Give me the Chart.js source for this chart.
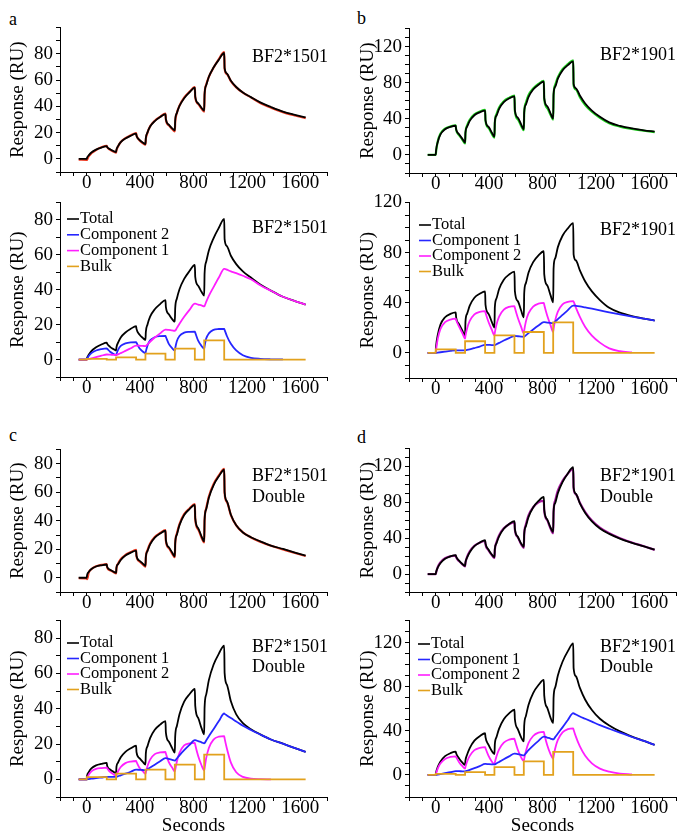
<!DOCTYPE html>
<html>
<head>
<meta charset="utf-8">
<title>BF2 binding sensorgrams</title>
<script src="https://cdn.jsdelivr.net/npm/chart.js@4.4.1/dist/chart.umd.min.js"></script>
<style>
    html, body { margin: 0; padding: 0; background: #fff; }
    #fig { position: relative; width: 681px; height: 836px; overflow: hidden; }
    #fig canvas { position: absolute; }
    .lbl { position: absolute; font: 18px 'Liberation Serif', 'Times New Roman', serif; line-height: 18px; color: #000; }
</style>
</head>
<body>
<div id="fig">
    <div class="lbl" style="left:9px;top:10px">a</div>
    <div class="lbl" style="left:357px;top:9px">b</div>
    <div class="lbl" style="left:9px;top:426px">c</div>
    <div class="lbl" style="left:357px;top:428px">d</div>
</div>
<script>
// ═══════════════════════════════════════════════════════
// Sensorgrams — BF2*1501 / BF2*1901, single & double fits
// ═══════════════════════════════════════════════════════

// ─── TIME GRID (s) ───
const T = [
    -60, 0, 3, 15, 35, 70, 110, 150, 153, 175, 200,
    220, 223, 235, 255, 290, 330, 370, 373, 395, 420,
    440, 443, 455, 475, 510, 550, 590, 593, 615, 640,
    660, 663, 675, 695, 730, 770, 810, 813, 835, 860,
    880, 883, 895, 915, 950, 990, 1030, 1033, 1050, 1080, 1120, 1170, 1230, 1300, 1380, 1470, 1560, 1640
];
const injStart = [0, 220, 440, 660, 880];
const injEnd = [150, 370, 590, 810, 1030];

// ─── PANEL a : BF2*1501 ───
const totalA = [
    0, 0, 0.95, 2.7, 4.8, 7.0, 8.6, 9.7, 9.1, 7.3, 6.0,
    5.2, 7.05, 9.7, 12.7, 15.5, 17.6, 19.2, 17.6, 14.4, 12.4,
    11.3, 15.8, 20.0, 24.6, 28.8, 31.8, 34.1, 30.2, 26.0, 23.2,
    21.7, 29.4, 34.8, 40.3, 46.2, 50.7, 54.3, 47.4, 42.3, 38.8,
    36.7, 49.3, 56.0, 62.5, 69.5, 75.5, 80.6, 69.0, 65.0, 59.5, 54.7, 50.5, 47.0, 43.0, 39.5, 36.0, 33.5, 31.5
];
const comp2A = [
    0, 0, 0.5, 2.0, 3.7, 5.2, 6.0, 6.4, 6.2, 4.5, 3.3,
    2.6, 3.2, 5.5, 7.8, 9.3, 9.9, 10.0, 9.6, 6.5, 4.6,
    3.6, 4.6, 8.0, 11.0, 12.8, 13.4, 13.5, 13.0, 9.0, 6.5,
    5.2, 6.5, 10.5, 13.5, 15.4, 15.9, 16.0, 15.4, 10.8, 7.8,
    6.2, 7.6, 12.0, 15.0, 17.0, 17.5, 17.6, 17.0, 13.5, 9.0, 5.2, 2.5, 1.0, 0.4, 0.15, 0.05, null, null
];
const comp1A = [
    0, 0, 0.05, 0.3, 0.7, 1.4, 2.2, 2.9, 2.9, 2.8, 2.7,
    2.6, 2.65, 3.0, 3.7, 5.0, 6.5, 8.0, 8.0, 7.9, 7.8,
    7.7, 7.8, 8.6, 10.2, 12.6, 15.0, 17.2, 17.2, 17.0, 16.7,
    16.5, 16.6, 18.0, 20.5, 24.5, 28.5, 32.0, 32.0, 31.5, 31.0,
    30.5, 30.7, 33.0, 36.5, 41.5, 47.0, 52.0, 52.0, 51.5, 50.5, 49.5, 48.0, 46.0, 42.6, 39.4, 36.0, 33.5, 31.5
];
const obsA = [
    -0.6, -0.8, -0.5, 2.0, 4.3, 6.8, 8.8, 9.9, 9.0, 7.0, 5.6,
    4.8, 6.6, 9.5, 12.8, 15.8, 17.9, 19.7, 17.9, 14.2, 12.0,
    10.8, 15.0, 19.8, 24.8, 29.0, 32.0, 34.4, 30.0, 25.6, 22.7,
    21.0, 28.0, 34.8, 40.5, 46.6, 51.0, 54.6, 47.0, 41.8, 38.2,
    36.0, 48.5, 56.4, 62.4, 69.4, 76.0, 81.2, 68.8, 64.6, 59.2, 54.4, 50.4, 46.8, 42.6, 39.0, 35.6, 33.0, 31.0
];
const bulkA = [0.4, 1.2, 3.4, 6.3, 11.0];

// ─── PANEL b : BF2*1901 ───
const totalB = [
    0, 0, 5.45, 14.15, 22.45, 28.45, 31.1, 32.3, 28.4, 23.0, 17.8,
    13.6, 25.05, 31.2, 37.7, 44.0, 47.2, 49.1, 38.6, 31.3, 24.8,
    20.2, 36.5, 43.4, 51.0, 58.4, 62.6, 64.8, 49.5, 41.3, 33.8,
    28.4, 47.6, 55.5, 64.0, 72.4, 77.8, 81.1, 62.9, 54.0, 46.1,
    40.4, 67.4, 75.4, 84.4, 93.5, 99.4, 103.5, 78.7, 73.8, 65.9, 57.0, 49.1, 42.2, 36.0, 32.1, 29.3, 27.3, 25.8
];
const comp1B = [
    0, 0, 0.05, 0.25, 0.55, 1.05, 1.6, 2.1, 2.1, 2.1, 2.1,
    2.1, 2.15, 2.4, 2.9, 3.9, 5.1, 6.5, 6.5, 6.4, 6.3,
    6.2, 6.3, 6.9, 8.0, 9.9, 11.8, 13.5, 13.5, 13.3, 13.0,
    12.8, 12.9, 14.0, 15.8, 18.7, 21.8, 24.5, 24.5, 24.2, 23.9,
    23.7, 23.8, 25.0, 27.0, 30.3, 34.2, 37.8, 37.8, 37.6, 37.1, 36.3, 35.3, 34.0, 32.4, 30.7, 28.9, 27.3, 25.8
];
const comp2B = [
    0, 0, 2.5, 11.0, 19.0, 24.5, 26.6, 27.3, 26.3, 20.9, 15.7,
    11.5, 13.6, 19.5, 25.5, 30.8, 32.8, 33.3, 32.1, 24.9, 18.5,
    14.0, 16.2, 22.5, 29.0, 34.5, 36.8, 37.3, 36.0, 28.0, 20.8,
    15.6, 18.0, 24.8, 31.5, 37.0, 39.3, 39.9, 38.4, 29.8, 22.2,
    16.7, 19.2, 26.0, 33.0, 38.8, 40.8, 41.3, 40.9, 36.2, 28.8, 20.7, 13.8, 8.2, 3.6, 1.4, 0.4, null, null
];
const obsB = [
    0, 0, 4.0, 15.0, 23.5, 29.0, 31.5, 32.8, 28.0, 22.0, 16.8,
    12.8, 24.0, 32.5, 39.0, 45.0, 48.0, 49.8, 38.0, 30.0, 23.5,
    19.2, 35.5, 45.0, 52.5, 59.5, 63.2, 65.6, 48.8, 39.5, 32.2,
    27.4, 46.5, 57.5, 66.0, 73.5, 78.6, 82.0, 62.0, 52.0, 44.5,
    39.2, 66.0, 77.5, 86.0, 95.0, 100.5, 104.6, 76.8, 72.5, 64.0, 55.2, 47.8, 41.2, 35.2, 31.4, 28.8, 26.8, 25.2
];
const bulkB = [2.9, 9.3, 14.0, 16.7, 24.4];

// ─── PANEL c : BF2*1501 Double ───
const totalC = [
    0, 0, 2.03, 4.05, 6.15, 7.9, 8.75, 9.3, 7.7, 5.6, 4.3,
    3.5, 7.15, 9.55, 12.5, 15.6, 17.6, 19.1, 15.4, 12.0, 9.9,
    8.4, 14.7, 18.7, 23.4, 28.1, 31.0, 33.0, 26.6, 21.4, 17.7,
    15.1, 24.4, 30.1, 36.9, 44.0, 48.2, 51.2, 41.8, 34.8, 29.0,
    25.5, 40.7, 48.0, 56.2, 64.9, 71.2, 75.8, 60.3, 53.7, 44.2, 36.8, 31.8, 28.4, 25.5, 22.6, 20.2, 17.7, 15.6
];
const comp1C = [
    0, 0, 0.03, 0.15, 0.35, 0.7, 1.05, 1.4, 1.4, 1.4, 1.4,
    1.4, 1.45, 1.75, 2.3, 3.2, 4.3, 5.5, 5.5, 5.4, 5.3,
    5.2, 5.3, 5.8, 6.7, 8.3, 10.2, 12.0, 12.0, 11.6, 11.0,
    10.6, 10.7, 11.8, 13.6, 16.5, 19.5, 22.2, 22.2, 21.6, 21.0,
    20.4, 20.5, 22.0, 24.4, 28.4, 33.0, 37.3, 37.1, 36.2, 34.7, 32.8, 30.4, 28.0, 25.4, 22.6, 20.2, 17.7, 15.6
];
const comp2C = [
    0, 0, 0.7, 2.6, 4.5, 5.9, 6.4, 6.6, 6.3, 4.2, 2.9,
    2.1, 2.5, 4.6, 7.0, 9.2, 10.1, 10.4, 9.9, 6.6, 4.6,
    3.2, 3.9, 7.4, 11.2, 14.3, 15.3, 15.5, 14.6, 9.8, 6.7,
    4.5, 5.4, 10.0, 15.0, 19.2, 20.4, 20.7, 19.6, 13.2, 8.0,
    5.1, 6.2, 12.0, 17.8, 22.5, 24.2, 24.5, 23.2, 17.5, 9.5, 4.0, 1.4, 0.4, 0.1, 0.0, null, null, null
];
const obsC = [
    -0.3, -0.4, -1.0, 3.6, 6.0, 8.0, 9.0, 9.6, 7.3, 5.2, 4.0,
    3.0, 6.8, 9.8, 13.0, 16.0, 18.0, 19.5, 15.0, 11.5, 9.4,
    7.8, 14.2, 19.2, 24.0, 28.6, 31.4, 33.4, 26.0, 20.8, 17.0,
    14.4, 24.0, 30.8, 37.6, 44.6, 48.6, 51.6, 41.2, 34.0, 28.2,
    24.8, 40.0, 48.6, 57.0, 65.6, 71.8, 76.4, 59.6, 53.2, 44.0, 36.8, 31.8, 28.3, 25.3, 22.4, 19.9, 17.4, 15.3
];
const bulkC = [1.3, 3.2, 5.5, 8.3, 14.0];

// ─── PANEL d : BF2*1901 Double ───
const totalD = [
    0, 0, 2.37, 7.05, 12.0, 17.0, 19.7, 21.2, 19.6, 15.0, 11.2,
    9.1, 13.15, 18.3, 24.4, 31.1, 35.1, 37.8, 34.2, 27.4, 21.8,
    19.0, 27.9, 34.2, 42.0, 50.5, 55.8, 59.1, 50.7, 41.6, 34.1,
    30.4, 44.8, 53.1, 63.5, 74.2, 81.5, 86.1, 72.1, 61.0, 51.9,
    47.0, 70.1, 79.2, 90.2, 102.6, 112.2, 119.2, 96.8, 89.5, 78.9, 68.2, 58.8, 50.9, 44.8, 39.5, 34.8, 30.8, 27.2
];
const comp1D = [
    0, 0, 0.07, 0.35, 0.8, 1.6, 2.5, 3.4, 3.4, 3.4, 3.3,
    3.3, 3.35, 3.8, 4.6, 6.1, 8.0, 10.0, 10.0, 9.8, 9.6,
    9.5, 9.6, 10.4, 11.8, 14.2, 16.8, 19.3, 19.3, 18.8, 18.2,
    17.8, 17.9, 19.6, 22.4, 26.6, 30.9, 34.7, 34.7, 33.9, 33.0,
    32.2, 32.3, 34.3, 37.6, 43.1, 49.8, 56.0, 55.8, 54.8, 53.0, 50.9, 48.3, 45.2, 41.9, 38.3, 34.4, 30.8, 27.2
];
const comp2D = [
    0, 0, 1.4, 5.8, 10.3, 14.5, 16.3, 16.9, 16.2, 11.6, 7.9,
    5.8, 7.3, 12.0, 17.3, 22.5, 24.6, 25.3, 24.2, 17.6, 12.2,
    9.5, 11.3, 16.8, 23.2, 29.3, 32.0, 32.8, 31.4, 22.8, 15.9,
    12.6, 14.6, 21.2, 28.8, 35.3, 38.3, 39.1, 37.4, 27.1, 18.9,
    14.8, 16.9, 24.0, 31.7, 38.6, 41.5, 42.3, 41.0, 34.7, 25.8, 17.3, 10.5, 5.7, 2.9, 1.2, 0.4, null, null
];
const obsD = [
    0, 0, 1.5, 7.8, 13.0, 17.6, 19.8, 20.6, 18.8, 14.4, 10.8,
    8.6, 12.5, 19.2, 25.4, 31.6, 35.0, 37.0, 33.0, 26.6, 21.2,
    18.0, 27.0, 35.5, 43.4, 51.0, 55.6, 58.0, 49.6, 41.0, 33.2,
    29.2, 44.0, 55.0, 65.5, 74.5, 80.0, 81.5, 70.5, 60.2, 50.8,
    45.6, 69.0, 82.0, 93.0, 104.0, 112.0, 117.5, 95.5, 89.0, 79.5, 69.2, 59.8, 51.8, 45.4, 40.0, 35.2, 31.0, 27.0
];
const bulkD = [0.9, 2.5, 7.0, 12.3, 20.9];

// ─── STYLE ───
const FONT = "'Liberation Serif', 'Times New Roman', serif";
const BLACK = '#000000', BLUE = '#2626ff', MAG = '#ff1eff', ORANGE = '#e2a11d';
const RED = '#ee3a22', GREEN = '#1ccf1c', PURPLE = '#a8199f';

const fig = document.getElementById('fig');

function pts(v) {
    return T.map((t, i) => ({ x: t, y: v[i] }));
}

function bulkPts(h) {
    const p = [{ x: T[0], y: 0 }];
    injStart.forEach((s, i) => {
        p.push({ x: s, y: 0 }, { x: s, y: h[i] }, { x: injEnd[i], y: h[i] }, { x: injEnd[i], y: 0 });
    });
    p.push({ x: T[T.length - 1], y: 0 });
    return p;
}

function curve(label, v, color, order, width) {
    return {
        label, data: pts(v), borderColor: color, borderWidth: width || 1.8,
        pointRadius: 0, cubicInterpolationMode: 'monotone', spanGaps: false, order
    };
}

function step(label, h, color, order) {
    return { label, data: bulkPts(h), borderColor: color, borderWidth: 1.8, pointRadius: 0, tension: 0, order };
}

// ─── ANNOTATION + LEGEND PLUGIN ───
const panelText = {
    id: 'panelText',
    afterDraw(chart, args, o) {
        const ctx = chart.ctx;
        ctx.save();
        ctx.fillStyle = '#000';
        ctx.textAlign = 'left';
        ctx.textBaseline = 'middle';
        ctx.font = '18px ' + FONT;
        o.lines.forEach((s, i) => ctx.fillText(s, o.tx - o.ox, o.ty[i] - o.oy));
        if (o.legend) {
            const lg = o.legend;
            ctx.font = '16.5px ' + FONT;
            lg.order.forEach((di, i) => {
                const ds = chart.data.datasets[di];
                const y = lg.y + i * lg.dy - o.oy;
                const x = lg.x - o.ox;
                ctx.strokeStyle = ds.borderColor;
                ctx.lineWidth = 1.6;
                ctx.beginPath();
                ctx.moveTo(x, y);
                ctx.lineTo(x + 12, y);
                ctx.stroke();
                ctx.fillText(ds.label, x + 13, y);
            });
        }
        ctx.restore();
    }
};

// ─── PANEL BUILDER ───
function makePanel(cfg) {
    const colX = cfg.col === 'L' ? 0 : 340;
    const colW = cfg.col === 'L' ? 340 : 341;
    const [L, R, Tp, B] = cfg.box;
    const below = cfg.seconds ? 836 - B : 26;
    const top = Tp - 12;
    const h = B - Tp + 12 + below;

    const cv = document.createElement('canvas');
    cv.width = colW; cv.height = h;
    cv.style.left = colX + 'px';
    cv.style.top = top + 'px';
    cv.style.width = colW + 'px';
    cv.style.height = h + 'px';
    fig.appendChild(cv);

    const yTop = cfg.y[1] === 140 || cfg.y[1] === 120 ? 120 : 80;
    const major = yTop === 120 ? 40 : 20;
    const tickFont = { family: FONT, size: 19, lineHeight: 1 };

    new Chart(cv, {
        type: 'line',
        data: { datasets: cfg.datasets },
        options: {
            responsive: false,
            animation: false,
            devicePixelRatio: 1,
            layout: { padding: { top: 12, left: 0, right: colX + colW - R, bottom: 0 } },
            plugins: {
                legend: { display: false },
                tooltip: { enabled: false },
                panelText: { ox: colX, oy: top, lines: cfg.lines, tx: cfg.tx, ty: cfg.ty, legend: cfg.legend || null }
            },
            scales: {
                x: {
                    type: 'linear', min: -200, max: 1800,
                    grid: { display: true, drawOnChartArea: false, drawTicks: true, tickLength: 4, color: '#000', lineWidth: 1 },
                    border: { display: true, color: '#000', width: 1 },
                    ticks: {
                        stepSize: 100, autoSkip: false, maxRotation: 0, minRotation: 0, maxTicksLimit: 100,
                        color: '#000', font: tickFont, padding: -2,
                        callback: v => (v >= 0 && v <= 1600 && v % 400 === 0) ? String(v) : ''
                    },
                    title: cfg.seconds
                        ? { display: true, text: 'Seconds', color: '#000', font: { family: FONT, size: 19, lineHeight: 1 }, padding: 0 }
                        : { display: false },
                    afterFit: s => { s.height = below; }
                },
                y: {
                    type: 'linear', min: cfg.y[0], max: cfg.y[1],
                    grid: { display: true, drawOnChartArea: false, drawTicks: true, tickLength: 4, color: '#000', lineWidth: 1 },
                    border: { display: true, color: '#000', width: 1 },
                    ticks: {
                        stepSize: 10, autoSkip: false, maxTicksLimit: 100,
                        color: '#000', font: tickFont, padding: 3,
                        callback: v => (v >= 0 && v <= yTop && v % major === 0) ? String(v) : ''
                    },
                    title: {
                        display: true, text: 'Response (RU)', color: '#000',
                        font: { family: FONT, size: 19, lineHeight: 1 },
                        padding: { top: cfg.col === 'L' ? 8.5 : 18.5, bottom: 0 }
                    },
                    afterFit: s => { s.width = L - colX; }
                }
            }
        },
        plugins: [panelText]
    });
}

// ─── INIT ───
makePanel({
    col: 'L', box: [60, 327, 27, 172], y: [-10, 100],
    lines: ['BF2*1501'], tx: 252, ty: [57],
    datasets: [curve('Fit', totalA, BLACK, 0), curve('Data', obsA, RED, 1, 2.2)]
});
makePanel({
    col: 'R', box: [409, 676, 28, 173], y: [-20, 140],
    lines: ['BF2*1901'], tx: 600, ty: [55],
    datasets: [curve('Fit', totalB, BLACK, 0), curve('Data', obsB, GREEN, 1, 2.2)]
});
makePanel({
    col: 'L', box: [60, 327, 202, 377], y: [-10, 90],
    lines: ['BF2*1501'], tx: 252, ty: [228],
    legend: { x: 67, y: 219, dy: 15.8, order: [0, 1, 2, 3] },
    datasets: [
        curve('Total', totalA, BLACK, 3),
        curve('Component 2', comp2A, BLUE, 2),
        curve('Component 1', comp1A, MAG, 1),
        step('Bulk', bulkA, ORANGE, 0)
    ]
});
makePanel({
    col: 'R', box: [409, 676, 202, 378], y: [-20, 120],
    lines: ['BF2*1901'], tx: 600, ty: [230],
    legend: { x: 419, y: 225, dy: 15.5, order: [0, 1, 2, 3] },
    datasets: [
        curve('Total', totalB, BLACK, 3),
        curve('Component 1', comp1B, BLUE, 1),
        curve('Component 2', comp2B, MAG, 2),
        step('Bulk', bulkB, ORANGE, 0)
    ]
});
makePanel({
    col: 'L', box: [60, 327, 449, 592], y: [-10, 90],
    lines: ['BF2*1501', 'Double'], tx: 252, ty: [476, 497],
    datasets: [curve('Fit', totalC, BLACK, 0), curve('Data', obsC, RED, 1, 2.2)]
});
makePanel({
    col: 'R', box: [409, 676, 448, 592], y: [-20, 140],
    lines: ['BF2*1901', 'Double'], tx: 600, ty: [476, 497],
    datasets: [curve('Fit', totalD, BLACK, 0), curve('Data', obsD, PURPLE, 1, 2.2)]
});
makePanel({
    col: 'L', box: [60, 327, 620, 797], y: [-10, 90], seconds: true,
    lines: ['BF2*1501', 'Double'], tx: 252, ty: [647, 667],
    legend: { x: 67, y: 643, dy: 15.5, order: [0, 1, 2, 3] },
    datasets: [
        curve('Total', totalC, BLACK, 3),
        curve('Component 1', comp1C, BLUE, 1),
        curve('Component 2', comp2C, MAG, 2),
        step('Bulk', bulkC, ORANGE, 0)
    ]
});
makePanel({
    col: 'R', box: [409, 676, 620, 797], y: [-20, 140], seconds: true,
    lines: ['BF2*1901', 'Double'], tx: 600, ty: [647, 667],
    legend: { x: 418, y: 644, dy: 15.5, order: [0, 1, 2, 3] },
    datasets: [
        curve('Total', totalD, BLACK, 3),
        curve('Component 1', comp1D, BLUE, 1),
        curve('Component 2', comp2D, MAG, 2),
        step('Bulk', bulkD, ORANGE, 0)
    ]
});
</script>
</body>
</html>
